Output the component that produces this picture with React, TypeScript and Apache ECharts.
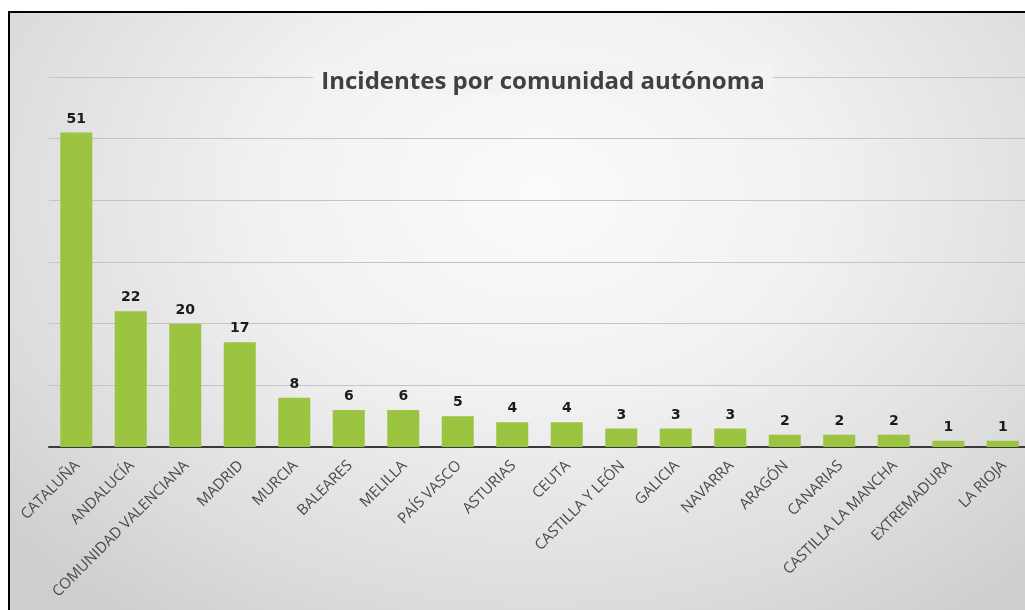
import React, { useEffect, useRef } from "react";
import * as echarts from "echarts";

const categories = [
  "CATALUÑA", "ANDALUCÍA", "COMUNIDAD VALENCIANA", "MADRID", "MURCIA", "BALEARES",
  "MELILLA", "PAÍS VASCO", "ASTURIAS", "CEUTA", "CASTILLA Y LEÓN", "GALICIA",
  "NAVARRA", "ARAGÓN", "CANARIAS", "CASTILLA LA MANCHA", "EXTREMADURA", "LA RIOJA",
];
const incidentes = [51, 22, 20, 17, 8, 6, 6, 5, 4, 4, 3, 3, 3, 2, 2, 2, 1, 1];
const titleText = "Incidentes por comunidad autónoma";

export default function App() {
  const ref = useRef<HTMLDivElement>(null);
  useEffect(() => {
    if (!ref.current) return;
    const chart = echarts.init(ref.current, undefined, { renderer: "svg" });
    chart.setOption({
      animation: false,
      backgroundColor: "transparent",
      title: {
        text: titleText,
        left: "center",
        top: 51,
        padding: [1, 8],
        backgroundColor: "#f3f3f3",
        textStyle: {
          fontFamily: "Open Sans",
          fontWeight: "bold",
          fontSize: 24,
          lineHeight: 28,
          color: "#404040",
        },
      },
      grid: { left: 39, right: 46, top: 64, bottom: 186, containLabel: false },
      xAxis: {
        type: "category",
        data: categories,
        axisLine: { show: true, lineStyle: { color: "#3a3a3a", width: 2 } },
        axisTick: { show: false },
        axisLabel: {
          interval: 0,
          rotate: 45,
          margin: 15,
          fontFamily: "Open Sans",
          fontSize: 15,
          color: "#4a4a4a",
        },
      },
      yAxis: {
        type: "value",
        min: 0,
        max: 60,
        interval: 10,
        axisLine: { show: false },
        axisTick: { show: false },
        axisLabel: { show: false },
        splitLine: { show: true, lineStyle: { color: "#c4c4c4", width: 1 } },
      },
      series: [
        {
          type: "bar",
          data: incidentes,
          barWidth: 32,
          itemStyle: { color: "#9bc440" },
          label: {
            show: true,
            position: "top",
            distance: 8,
            fontFamily: "DejaVu Sans",
            fontWeight: "bold",
            fontSize: 14,
            color: "#1a1a1a",
          },
        },
      ],
    });
    return () => chart.dispose();
  }, []);

  return (
    <div
      style={{
        position: "fixed",
        left: 8,
        top: 0,
        width: 1017,
        height: 610,
        overflow: "hidden",
      }}
    >
      <div
        style={{
          position: "absolute",
          left: 0,
          top: 11,
          width: 1100,
          height: 700,
          borderLeft: "2px solid #000",
          borderTop: "2px solid #000",
          background:
            "radial-gradient(ellipse 700px 520px at 530px 180px, #fbfbfb 0%, #f1f1f1 40%, #dcdcdc 80%, #cfcfcf 100%)",
        }}
      >
        <div ref={ref} style={{ width: 1066, height: 620 }} />
      </div>
    </div>
  );
}
